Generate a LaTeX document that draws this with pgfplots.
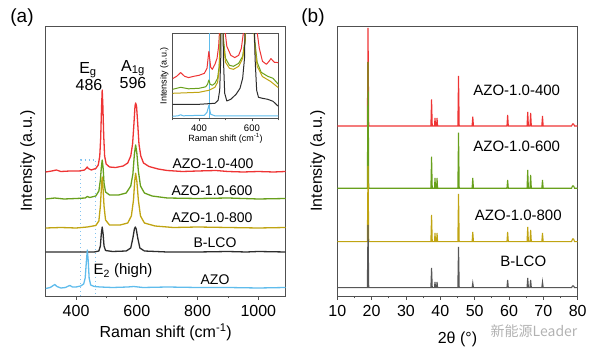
\documentclass[border=0pt]{standalone}
\usepackage{pgfplots}
\pgfplotsset{compat=1.18}
\usepackage{pgfplotstable}
\usepackage{fontspec}
\setmainfont{Liberation Sans}
\newfontfamily\cjk{Noto Sans CJK SC}

\definecolor{cred}{RGB}{238,52,52}
\definecolor{cgreen}{RGB}{104,160,28}
\definecolor{cyellow}{RGB}{192,164,18}
\definecolor{cblack}{RGB}{45,45,45}
\definecolor{cblue}{RGB}{95,188,236}
\definecolor{cdot}{RGB}{130,195,240}
\definecolor{axisgray}{RGB}{80,80,80}

% XRD data: 2theta, red(400), green(600), yellow(800), black(B-LCO); offsets included
\pgfplotstableread{
x      r      g      y      k
10     170    107.7  54.3   8.3
18.75  170    107.7  54.3   8.3
18.95  268    234    130    71
19.15  170    107.7  54.3   8.3
37.25  170    107.7  54.3   8.3
37.45  196.7  139.3  81     28
37.65  170    107.7  54.3   8.3
38.3   170    107.7  54.3   8.3
38.45  178    118    63     14
38.6   170    107.7  54.3   8.3
38.9   170    107.7  54.3   8.3
39.05  178    118    63     14
39.2   170    107.7  54.3   8.3
45.1   170    107.7  54.3   8.3
45.3   220    163.3  102    49
45.5   170    107.7  54.3   8.3
49.25  170    107.7  54.3   8.3
49.45  179.3  118    64     13
49.65  170    107.7  54.3   8.3
59.4   170    107.7  54.3   8.3
59.6   181    116    64     16
59.8   170    107.7  54.3   8.3
65.25  170    107.7  54.3   8.3
65.45  184    126    69     18
65.65  170    107.7  54.3   8.3
66.1   170    107.7  54.3   8.3
66.3   183    121    66     16
66.5   170    107.7  54.3   8.3
69.55  170    107.7  54.3   8.3
69.75  180    116    63     14
69.95  170    107.7  54.3   8.3
78.2   170    107.7  54.3   8.3
78.5   172    110    57     10
78.8   172    110    57     10
79.1   170    107.7  54.3   8.3
80     170    107.7  54.3   8.3
}\xrd

\pgfplotsset{
  mainax/.style={
    scale only axis, anchor=south west,
    width=240pt, height=270pt, ymin=0, ymax=270,
    ytick=\empty, xtick pos=bottom, tick align=outside,
    major tick length=4pt, minor tick length=2.5pt,
    axis line style={draw=axisgray, line width=0.8pt},
    every tick/.style={axisgray, line width=0.8pt},
    /pgf/number format/assume math mode=true,
    /pgf/number format/set thousands separator={},
    xticklabel style={font=\fontsize{16}{16}\selectfont, anchor=base, yshift=-16.5pt},
    ylabel={Intensity (a.u.)},
    label style={font=\fontsize{16}{16}\selectfont},
  },
  ser/.style={line width=1.3pt, line join=round},
}

\begin{document}
\begin{tikzpicture}
\path[use as bounding box] (0pt,0pt) rectangle (600pt,356pt);

% ---------------- panel (a) ----------------
\begin{axis}[mainax, at={(45.7pt,60pt)},
  xmin=300, xmax=1090,
  xtick={400,600,800,1000}, minor xtick={500,700,900},
  xlabel={Raman shift (cm\textsuperscript{-1})},
  xlabel style={at={(axis description cs:0.5,0)}, anchor=base, yshift=-41.7pt},
  ylabel style={at={(axis description cs:0,0.5)}, anchor=center, yshift=18pt},
]
\addplot[cdot, line width=1.1pt, dash pattern=on 1.4pt off 2.6pt] coordinates {(415,0) (415,136) (465,136) (465,0)};
\addplot[ser, cred] coordinates {(300,124)(320,125)(335,126)(350,124.5)(380,125)(410,125)(428,126)(434,128)(437,129)(440,127.5)(450,126)(465,127.5)(473,131)(478,140)(481,158)(484,190)(486,206)(488,192)(491,160)(494,140)(499,132)(510,129)(530,128.5)(555,130)(570,133)(580,140)(586,152)(590,170)(594,190)(596,193)(599,190)(603,172)(607,152)(613,140)(622,133)(640,129.5)(670,127)(700,125.5)(750,124.5)(800,125)(860,125.5)(900,124.5)(950,124)(1000,124.5)(1050,124)(1090,124.5)};
\addplot[ser, cgreen] coordinates {(300,97)(330,98)(360,97)(400,97.5)(430,98)(437,99.5)(445,98.5)(465,100)(475,105)(480,116)(483,128)(486,136)(489,128)(492,113)(497,104)(510,101)(540,101)(565,103)(580,110)(587,122)(592,142)(596,151)(600,143)(605,125)(612,110)(625,103)(650,100)(700,98)(800,97.5)(900,98)(1000,97)(1090,97.5)};
\addplot[ser, cyellow] coordinates {(300,68)(350,68.5)(400,68)(437,69)(465,70.5)(475,75)(480,90)(484,112)(486,119)(488,112)(492,90)(497,76)(510,71)(545,71)(570,73)(582,80)(589,96)(593,115)(596,122.7)(600,115)(605,96)(612,80)(625,73)(660,70)(720,68.5)(800,69)(900,68.5)(1000,68)(1090,68.5)};
\addplot[ser, cblack] coordinates {(300,44)(400,44)(460,44)(475,45)(480,50)(483,62)(486,69)(489,62)(492,50)(497,45.5)(520,44.5)(565,45)(580,48)(587,58)(592,67)(595,69)(598,67)(603,58)(610,48)(625,45)(700,44)(800,44)(900,44.5)(960,44)(1000,44.5)(1090,44)};
\addplot[ser, cblue] coordinates {(300,7.5)(315,8.5)(325,10.5)(330,11.5)(337,9.5)(350,8)(365,8.5)(375,10)(380,10.5)(388,9)(400,9)(415,10)(425,12)(430,18)(434,35)(437,46)(440,35)(443,18)(448,11)(460,9.5)(480,9)(520,8.5)(570,9)(590,9.5)(620,8.5)(700,9)(800,8.5)(900,8.5)(1000,8)(1090,8.5)};
\end{axis}

% inset
\begin{axis}[scale only axis, anchor=south west, at={(172.7pt,237.7pt)},
  width=105.6pt, height=85pt, xmin=300, xmax=700, ymin=0, ymax=85,
  axis background/.style={fill=white},
  ytick=\empty, xtick={400,600}, minor xtick={300,500,700}, xtick pos=bottom, tick align=outside,
  major tick length=3pt, minor tick length=2pt,
  axis line style={draw=axisgray, line width=0.7pt},
  every tick/.style={axisgray, line width=0.6pt},
  /pgf/number format/assume math mode=true,
  xticklabel style={font=\fontsize{9.5}{9.5}\selectfont, anchor=base, yshift=-10.3pt},
  label style={font=\fontsize{9}{9}\selectfont},
  xlabel={Raman shift (cm\textsuperscript{-1})},
  xlabel style={at={(axis description cs:0.5,0)}, anchor=base, yshift=-23pt},
  ylabel={Intensity (a.u.)},
  ylabel style={at={(axis description cs:0,0.5)}, anchor=center, yshift=8.5pt},
]
\addplot[cblue, line width=0.6pt] coordinates {(437,0) (437,85)};
\addplot[ser, line width=1pt, cred] coordinates {(300,39.7)(315,42)(330,45.7)(345,42)(360,40.7)(380,42)(400,43)(420,45)(430,50)(434,60)(437,67)(440,60)(444,51)(450,49)(460,54)(468,60)(474,72)(478,90)(482,150)(486,200)(490,150)(495,95)(505,72)(520,63)(535,60.7)(550,63)(560,70)(570,90)(580,150)(596,200)(610,150)(618,90)(628,70)(640,57)(655,54)(665,57)(672,59.7)(685,56)(700,55.7)};
\addplot[ser, line width=1pt, cgreen] coordinates {(300,29)(330,31)(360,29.5)(400,30)(425,31.5)(432,34)(437,38.3)(442,34)(450,33)(460,35)(470,40)(476,52)(480,80)(484,150)(488,150)(492,80)(500,60)(515,53)(530,52)(550,55)(565,62)(575,80)(583,150)(600,150)(610,80)(620,56)(635,46)(660,42)(680,40)(700,34)};
\addplot[ser, line width=1pt, cyellow] coordinates {(300,25)(350,25.5)(400,26)(437,28)(460,31)(470,36)(476,48)(480,75)(484,150)(488,150)(492,75)(500,56)(515,50)(530,49)(550,52)(565,60)(575,78)(583,150)(600,150)(610,75)(620,52)(640,41.7)(670,37)(700,30.7)};
\addplot[ser, line width=1pt, cblack] coordinates {(300,14)(400,14)(460,15)(472,18)(478,28)(482,60)(485,150)(488,150)(492,60)(497,25)(505,17.3)(520,19)(540,24)(555,30)(565,40)(572,60)(578,150)(605,150)(612,60)(618,28)(625,21)(640,20)(660,19)(680,17)(700,12)};
\addplot[ser, line width=1pt, cblue] coordinates {(300,2)(320,2.5)(330,3.5)(340,2.5)(380,2.8)(420,3)(430,6)(434,10)(437,13)(440,9)(444,4)(460,2.5)(500,2.5)(600,2.3)(700,2.3)};
\end{axis}

% ---------------- panel (b) ----------------
\begin{axis}[mainax, at={(337.3pt,60pt)}, width=240.4pt,
  xmin=10, xmax=80,
  xtick={10,20,...,80}, minor xtick={15,25,...,75},
  xlabel={2θ (°)},
  xlabel style={at={(axis description cs:0.5,0)}, anchor=base, yshift=-47.3pt},
  ylabel style={at={(axis description cs:0,0.5)}, anchor=center, yshift=19.5pt},
]
\addplot[cred, line width=1.1pt] table[x=x, y=r] {\xrd};
\addplot[cgreen, line width=1.1pt] table[x=x, y=g] {\xrd};
\addplot[cyellow, line width=1.1pt] table[x=x, y=y] {\xrd};
\addplot[cblack!80, line width=1.1pt] table[x=x, y=k] {\xrd};
\end{axis}

% ---------------- text ----------------
\node[font=\fontsize{19}{19}\selectfont] at (22pt,338pt) {(a)};
\node[font=\fontsize{19}{19}\selectfont] at (313pt,338pt) {(b)};
\begin{scope}[every node/.style={font=\fontsize{16}{16}\selectfont, inner sep=0pt}]
\node at (88pt,286pt) {E\textsubscript{g}};
\node at (89pt,271pt) {486};
\node at (133pt,288pt) {A\textsubscript{1g}};
\node at (133pt,273pt) {596};
\end{scope}
\begin{scope}[every node/.style={font=\fontsize{14}{14}\selectfont, inner sep=0pt}]
\node at (213pt,192.7pt) {AZO-1.0-400};
\node at (212pt,165.3pt) {AZO-1.0-600};
\node at (212pt,138pt) {AZO-1.0-800};
\node at (215pt,113pt) {B-LCO};
\node at (215pt,76pt) {AZO};
\node[font=\fontsize{15}{15}\selectfont] at (123pt,85pt) {E\textsubscript{2} (high)};
\end{scope}
\begin{scope}[every node/.style={font=\fontsize{15}{15}\selectfont, inner sep=0pt}]
\node at (516.7pt,266pt) {AZO-1.0-400};
\node at (516.7pt,209.3pt) {AZO-1.0-600};
\node at (518.3pt,141pt) {AZO-1.0-800};
\node at (523.3pt,94.3pt) {B-LCO};
\end{scope}
\node[text=black!30, font=\fontsize{14}{14}\selectfont, inner sep=0pt] at (534pt,25pt) {\cjk 新能源Leader};
\end{tikzpicture}
\end{document}
